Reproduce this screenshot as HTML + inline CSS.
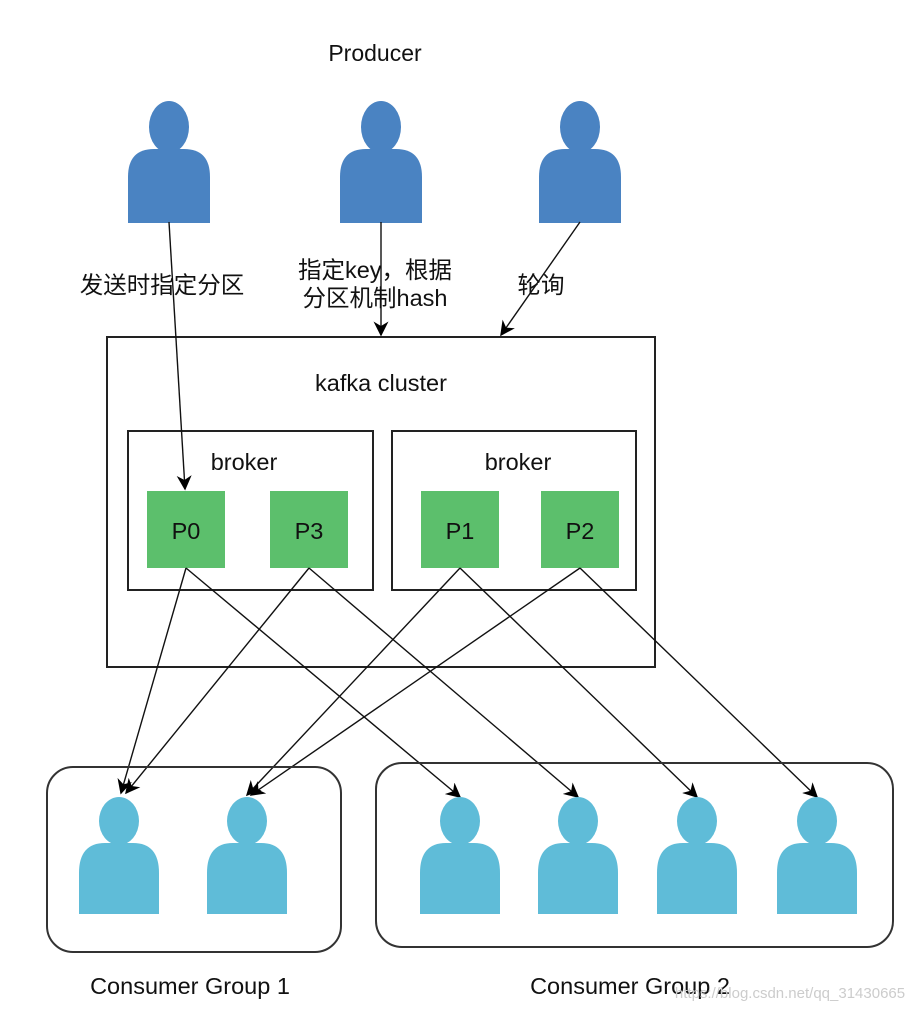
<!DOCTYPE html>
<html><head><meta charset="utf-8"><style>
html,body{margin:0;padding:0;background:#fff;}
svg{display:block;}
text{font-family:"Liberation Sans","Noto Sans CJK SC",sans-serif;fill:#111;}
</style></head><body>
<svg width="916" height="1010" viewBox="0 0 916 1010" xmlns="http://www.w3.org/2000/svg">
<defs>
<marker id="ar" viewBox="0 0 10 10" refX="9" refY="5" markerWidth="15" markerHeight="15" orient="auto" markerUnits="userSpaceOnUse" >
<path d="M0,0 L10,5 L0,10 L3,5 z" fill="#000"/>
</marker>
<g id="prod">
<ellipse cx="0" cy="0" rx="20" ry="26" fill="#4a83c2"/>
<path d="M-41,96 L-41,50 Q-41,22 -15,22 L15,22 Q41,22 41,50 L41,96 Z" fill="#4a83c2"/>
</g>
<g id="cons">
<ellipse cx="0" cy="0" rx="20" ry="24" fill="#5fbcd8"/>
<path d="M-40,93 L-40,52 Q-40,22 -14,22 L14,22 Q40,22 40,52 L40,93 Z" fill="#5fbcd8"/>
</g>
</defs>

<text x="375" y="61" font-size="23" text-anchor="middle">Producer</text>
<use href="#prod" x="169" y="127"/>
<use href="#prod" x="381" y="127"/>
<use href="#prod" x="580" y="127"/>

<text x="162" y="293" font-size="23.5" text-anchor="middle">发送时指定分区</text>
<text x="375" y="278" font-size="23.5" text-anchor="middle">指定key，根据</text>
<text x="375" y="306" font-size="23.5" text-anchor="middle">分区机制hash</text>
<text x="541" y="293" font-size="23.5" text-anchor="middle">轮询</text>

<rect x="107" y="337" width="548" height="330" fill="none" stroke="#222" stroke-width="2"/>
<text x="381" y="391" font-size="23.5" text-anchor="middle">kafka cluster</text>
<rect x="128" y="431" width="245" height="159" fill="none" stroke="#222" stroke-width="2"/>
<rect x="392" y="431" width="244" height="159" fill="none" stroke="#222" stroke-width="2"/>
<text x="244" y="470" font-size="23.5" text-anchor="middle">broker</text>
<text x="518" y="470" font-size="23.5" text-anchor="middle">broker</text>

<rect x="147" y="491" width="78" height="77" fill="#5cbf6c"/>
<rect x="270" y="491" width="78" height="77" fill="#5cbf6c"/>
<rect x="421" y="491" width="78" height="77" fill="#5cbf6c"/>
<rect x="541" y="491" width="78" height="77" fill="#5cbf6c"/>
<text x="186" y="539" font-size="23.5" text-anchor="middle">P0</text>
<text x="309" y="539" font-size="23.5" text-anchor="middle">P3</text>
<text x="460" y="539" font-size="23.5" text-anchor="middle">P1</text>
<text x="580" y="539" font-size="23.5" text-anchor="middle">P2</text>

<g stroke="#111" stroke-width="1.4" fill="none" marker-end="url(#ar)">
<line x1="169" y1="222" x2="185" y2="489"/>
<line x1="381" y1="222" x2="381" y2="335"/>
<line x1="580" y1="222" x2="501" y2="335"/>
<line x1="186" y1="568" x2="121" y2="793"/>
<line x1="309" y1="568" x2="126" y2="793"/>
<line x1="460" y1="568" x2="247" y2="795"/>
<line x1="580" y1="568" x2="251" y2="795"/>
<line x1="186" y1="568" x2="460" y2="797"/>
<line x1="309" y1="568" x2="578" y2="797"/>
<line x1="460" y1="568" x2="697" y2="797"/>
<line x1="580" y1="568" x2="817" y2="797"/>
</g>

<rect x="47" y="767" width="294" height="185" rx="26" fill="none" stroke="#333" stroke-width="2"/>
<rect x="376" y="763" width="517" height="184" rx="26" fill="none" stroke="#333" stroke-width="2"/>
<use href="#cons" x="119" y="821"/>
<use href="#cons" x="247" y="821"/>
<use href="#cons" x="460" y="821"/>
<use href="#cons" x="578" y="821"/>
<use href="#cons" x="697" y="821"/>
<use href="#cons" x="817" y="821"/>

<text x="190" y="994" font-size="23.5" text-anchor="middle">Consumer Group 1</text>
<text x="630" y="994" font-size="23.5" text-anchor="middle">Consumer Group 2</text>
<text x="790" y="998" font-size="15" text-anchor="middle" style="fill:#ccc">https://blog.csdn.net/qq_31430665</text>
</svg>
</body></html>
